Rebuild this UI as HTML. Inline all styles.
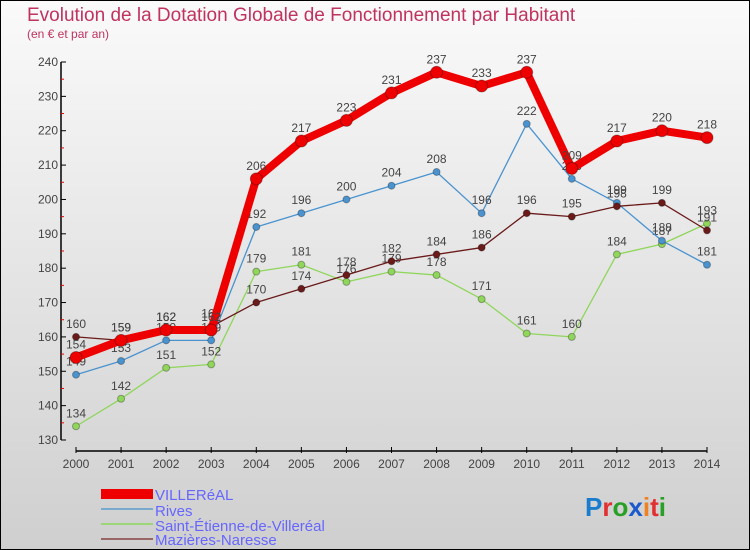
<!DOCTYPE html>
<html><head><meta charset="utf-8"><style>
body{margin:0}
#c{position:relative;width:748px;height:548px;border:1px solid #000;background:linear-gradient(#fafafa,#cfcfcf);font-family:"Liberation Sans",sans-serif;overflow:hidden}
svg text{font-family:"Liberation Sans",sans-serif}
</style></head><body>
<div id="c">
<svg id="s" width="748" height="548">
<text x="26" y="20" font-size="19" fill="#c0335f">Evolution de la Dotation Globale de Fonctionnement par Habitant</text>
<text x="26" y="37" font-size="12" fill="#c0335f">(en € et par an)</text>
<g id="axes"></g><g id="series"></g>
<g>
<rect x="100" y="488" width="52" height="10" fill="#e00"/>
<text x="154" y="499" font-size="15" fill="#6666ff">VILLERéAL</text>
<line x1="100" y1="508" x2="152" y2="508" stroke="#79a9cc" stroke-width="2"/>
<text x="154" y="515" font-size="15" fill="#6666ff">Rives</text>
<line x1="100" y1="523" x2="152" y2="523" stroke="#9cd777" stroke-width="2"/>
<text x="154" y="530" font-size="15" fill="#6666ff">Saint-Étienne-de-Villeréal</text>
<line x1="100" y1="538" x2="152" y2="538" stroke="#966" stroke-width="2"/>
<text x="154" y="544" font-size="15" fill="#6666ff">Mazières-Naresse</text>
</g>
<g font-size="26" font-weight="bold">
<text x="584" y="515"><tspan fill="#1a7ccc">P</tspan><tspan fill="#e03030">r</tspan><tspan fill="#28a028">o</tspan><tspan fill="#1a5acc">x</tspan><tspan fill="#f08020">i</tspan><tspan fill="#e03030">t</tspan><tspan fill="#28a028">i</tspan></text>
</g>
</svg></div>
<script>
const years=[2000,2001,2002,2003,2004,2005,2006,2007,2008,2009,2010,2011,2012,2013,2014];
const villereal=[154,159,162,162,206,217,223,231,237,233,237,209,217,220,218];
const rives=[149,153,159,159,192,196,200,204,208,196,222,206,199,188,181];
const stEtienne=[134,142,151,152,179,181,176,179,178,171,161,160,184,187,193];
const mazieres=[160,159,162,163,170,174,178,182,184,186,196,195,198,199,191];
const yTicks=[130,140,150,160,170,180,190,200,210,220,230,240];
const NS='http://www.w3.org/2000/svg';
function X(i){return 75+i*(706-75)/14;}
function Y(v){return 439-(v-130)*(439-61)/110;}
function mk(t,a,p){const e=document.createElementNS(NS,t);for(const k in a)e.setAttribute(k,a[k]);p.appendChild(e);return e;}
const ax=document.getElementById('axes');
const ya=mk('line',{x1:60,y1:Y(240),x2:60,y2:Y(130),stroke:'#000','stroke-width':1.5},ax);


yTicks.forEach(v=>{
 mk('line',{x1:60,y1:Y(v),x2:65,y2:Y(v),stroke:'#000'},ax);
 if(v<240)mk('line',{x1:60,y1:Y(v+5),x2:63,y2:Y(v+5),stroke:'#e00'},ax);
 const t=mk('text',{x:57,y:Y(v)+4,'font-size':12,fill:'#444','text-anchor':'end'},ax);t.textContent=v;
 
 
});
const xa=mk('line',{x1:X(0),y1:450,x2:X(14),y2:450,stroke:'#000','stroke-width':1.5},ax);


years.forEach((y,i)=>{
 mk('line',{x1:X(i),y1:446,x2:X(i),y2:452,stroke:'#000'},ax);
 const t=mk('text',{x:X(i),y:467,'font-size':12,fill:'#444','text-anchor':'middle'},ax);t.textContent=y;
 
 
});
const sg=document.getElementById('series');
function draw(vals,color,w,r,name){
 const g=mk('g',{},sg);
 
 
 mk('polyline',{points:vals.map((v,i)=>X(i)+','+Y(v)).join(' '),fill:'none',stroke:color,'stroke-width':w,'stroke-linejoin':'round'},g);
 vals.forEach((v,i)=>{
  const c=mk('circle',{cx:X(i),cy:Y(v),r:r,fill:color,stroke:'rgba(0,0,0,0.3)'},g);
  
  
  const t=mk('text',{x:X(i),y:Y(v)-9,'font-size':12,fill:'#444','text-anchor':'middle'},g);t.textContent=v;
  
  
 });
}
draw(stEtienne,'#8fd65a',1.3,3.5,'saint-etienne');
draw(rives,'#4a93cf',1.3,3.5,'rives');
draw(mazieres,'#6b1a1a',1.3,3.5,'mazieres');
draw(villereal,'#ee0000',8,6,'villereal');
</script>
</body></html>
